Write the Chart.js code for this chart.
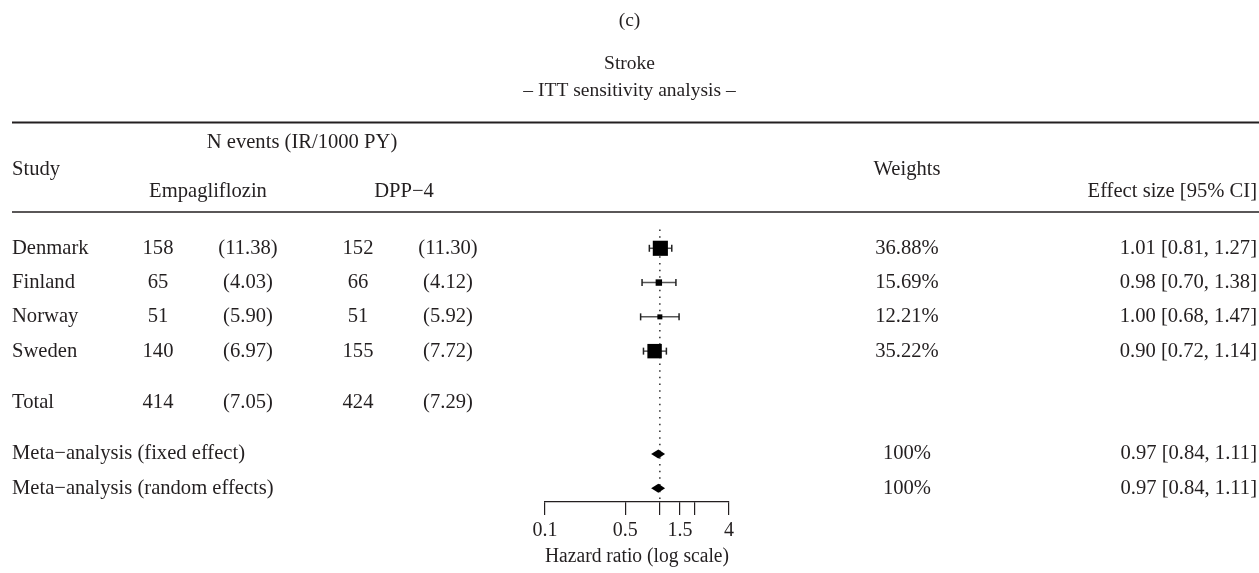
<!DOCTYPE html>
<html>
<head>
<meta charset="utf-8">
<title>Stroke – ITT sensitivity analysis</title>
<script src="https://cdn.jsdelivr.net/npm/chart.js@4.4.0/dist/chart.umd.min.js"></script>
<style>
  html, body { margin: 0; padding: 0; background: #fff; }
  #wrap { width: 1259px; height: 573px; }
</style>
</head>
<body>
<div id="wrap"><canvas id="forest" width="1259" height="573"></canvas></div>
<script>
// per-country estimates
const studies = ['Denmark', 'Finland', 'Norway', 'Sweden'];
const empaEvents = [158, 65, 51, 140];
const empaRate = [11.38, 4.03, 5.90, 6.97];
const dppEvents = [152, 66, 51, 155];
const dppRate = [11.30, 4.12, 5.92, 7.72];
const hr = [1.01, 0.98, 1.00, 0.90];
const ciLow = [0.81, 0.70, 0.68, 0.72];
const ciHigh = [1.27, 1.38, 1.47, 1.14];
const weights = [36.88, 15.69, 12.21, 35.22];

// totals
const totalEmpa = [414, 7.05];
const totalDpp = [424, 7.29];

// pooled estimates
const pooledLabels = ['Meta\u2212analysis (fixed effect)', 'Meta\u2212analysis (random effects)'];
const pooledHr = [0.97, 0.97];
const pooledLow = [0.84, 0.84];
const pooledHigh = [1.11, 1.11];
const pooledWeight = [100, 100];

// axis
const axisTicks = [0.1, 0.5, 1, 1.5, 2, 4];
const axisLabels = [0.1, 0.5, 1.5, 4];

const FONT = '"Liberation Serif", "Times New Roman", serif';
const INK = '#231f20';
const BODY = 20.6;

// one line per study, a gap, the totals, another gap, then the pooled lines
const studyRows = studies.map((_, i) => i + 1);
const totalRow = studies.length + 1.5;
const pooledRows = pooledLabels.map((_, i) => studies.length + 3 + i);
const lastRow = pooledRows[pooledRows.length - 1] + 0.4;

const fmt2 = v => v.toFixed(2);
const effectText = (e, lo, hi) => `${fmt2(e)} [${fmt2(lo)}, ${fmt2(hi)}]`;

const whiskers = studies.map((s, i) => ({
    type: 'line',
    data: [{ x: ciLow[i], y: studyRows[i] }, { x: ciHigh[i], y: studyRows[i] }],
    borderColor: '#555',
    borderWidth: 1.5,
    pointStyle: 'line',
    rotation: 90,
    pointRadius: 3.5,
    pointBorderColor: '#222',
    pointBorderWidth: 1.5,
    order: 1
}));

const tablePlugin = {
    id: 'forestTable',
    afterDatasetsDraw(chart) {
        const { ctx, scales: { x, y } } = chart;
        ctx.save();

        // pooled diamonds
        ctx.fillStyle = '#000';
        pooledHr.forEach((est, i) => {
            const yc = y.getPixelForValue(pooledRows[i]);
            ctx.beginPath();
            ctx.moveTo(x.getPixelForValue(pooledLow[i]), yc);
            ctx.lineTo(x.getPixelForValue(est), yc - 4.5);
            ctx.lineTo(x.getPixelForValue(pooledHigh[i]), yc);
            ctx.lineTo(x.getPixelForValue(est), yc + 4.5);
            ctx.closePath();
            ctx.fill();
        });

        const text = (str, px, py, align, size) => {
            ctx.font = `${size || BODY}px ${FONT}`;
            ctx.textAlign = align || 'center';
            ctx.textBaseline = 'middle';
            ctx.fillStyle = INK;
            ctx.fillText(str, px, py);
        };

        // titles
        const mid = chart.width / 2;
        text('(c)', mid, 21, 'center', 19.5);
        text('Stroke', mid, 64, 'center', 19.5);
        text('\u2013 ITT sensitivity analysis \u2013', mid, 91, 'center', 19.5);

        // header rules
        ctx.strokeStyle = INK;
        ctx.lineWidth = 2;
        ctx.beginPath();
        ctx.moveTo(12, 122.5);
        ctx.lineTo(chart.width, 122.5);
        ctx.stroke();
        ctx.lineWidth = 1.5;
        ctx.beginPath();
        ctx.moveTo(12, 212);
        ctx.lineTo(chart.width, 212);
        ctx.stroke();

        // column headings
        text('N events (IR/1000 PY)', 302, 143);
        text('Study', 12, 170, 'left');
        text('Weights', 907, 170);
        text('Empagliflozin', 208, 192);
        text('DPP\u22124', 404, 192);
        text('Effect size [95% CI]', 1257, 192, 'right');

        // study rows
        studies.forEach((s, i) => {
            const py = y.getPixelForValue(studyRows[i]);
            text(s, 12, py, 'left');
            text(String(empaEvents[i]), 158, py);
            text(`(${fmt2(empaRate[i])})`, 248, py);
            text(String(dppEvents[i]), 358, py);
            text(`(${fmt2(dppRate[i])})`, 448, py);
            text(`${fmt2(weights[i])}%`, 907, py);
            text(effectText(hr[i], ciLow[i], ciHigh[i]), 1257, py, 'right');
        });

        // totals
        const ty = y.getPixelForValue(totalRow);
        text('Total', 12, ty, 'left');
        text(String(totalEmpa[0]), 158, ty);
        text(`(${fmt2(totalEmpa[1])})`, 248, ty);
        text(String(totalDpp[0]), 358, ty);
        text(`(${fmt2(totalDpp[1])})`, 448, ty);

        // pooled rows
        pooledLabels.forEach((lab, i) => {
            const py = y.getPixelForValue(pooledRows[i]);
            text(lab, 12, py, 'left');
            text(`${pooledWeight[i]}%`, 907, py);
            text(effectText(pooledHr[i], pooledLow[i], pooledHigh[i]), 1257, py, 'right');
        });

        ctx.restore();
    }
};

new Chart(document.getElementById('forest').getContext('2d'), {
    type: 'scatter',
    data: {
        datasets: [
            {
                label: 'Studies',
                data: studies.map((s, i) => ({ x: hr[i], y: studyRows[i] })),
                pointStyle: 'rect',
                pointRadius: weights.map(w => w * 0.41 / Math.SQRT2),
                backgroundColor: '#000',
                borderWidth: 0,
                order: 0
            },
            ...whiskers,
            {
                type: 'line',
                label: 'No effect',
                data: [{ x: 1, y: 0.45 }, { x: 1, y: lastRow }],
                borderColor: '#222',
                borderWidth: 1.4,
                borderDash: [1.5, 5.2],
                pointRadius: 0,
                order: 2
            }
        ]
    },
    options: {
        responsive: false,
        animation: false,
        events: [],
        layout: { padding: { left: 545, right: 530, top: 214, bottom: 0 } },
        plugins: {
            legend: { display: false },
            tooltip: { enabled: false }
        },
        scales: {
            x: {
                type: 'logarithmic',
                position: 'bottom',
                min: 0.1,
                max: 4,
                afterBuildTicks: s => { s.ticks = axisTicks.map(v => ({ value: v })); },
                afterFit: s => { s.height = 71; },
                grid: {
                    display: true,
                    drawOnChartArea: false,
                    drawTicks: true,
                    tickLength: 13,
                    color: INK,
                    lineWidth: 1.2
                },
                border: { display: true, color: INK, width: 1.2 },
                ticks: {
                    autoSkip: false,
                    maxRotation: 0,
                    padding: 4,
                    color: INK,
                    font: { family: FONT, size: 20 },
                    callback: v => axisLabels.includes(v) ? String(v) : ''
                },
                title: {
                    display: true,
                    text: 'Hazard ratio (log scale)',
                    color: INK,
                    font: { family: FONT, size: 20 },
                    padding: { top: 0, bottom: 4 }
                }
            },
            y: {
                type: 'linear',
                min: 0,
                max: lastRow,
                reverse: true,
                display: false
            }
        }
    },
    plugins: [tablePlugin]
});
</script>
</body>
</html>
